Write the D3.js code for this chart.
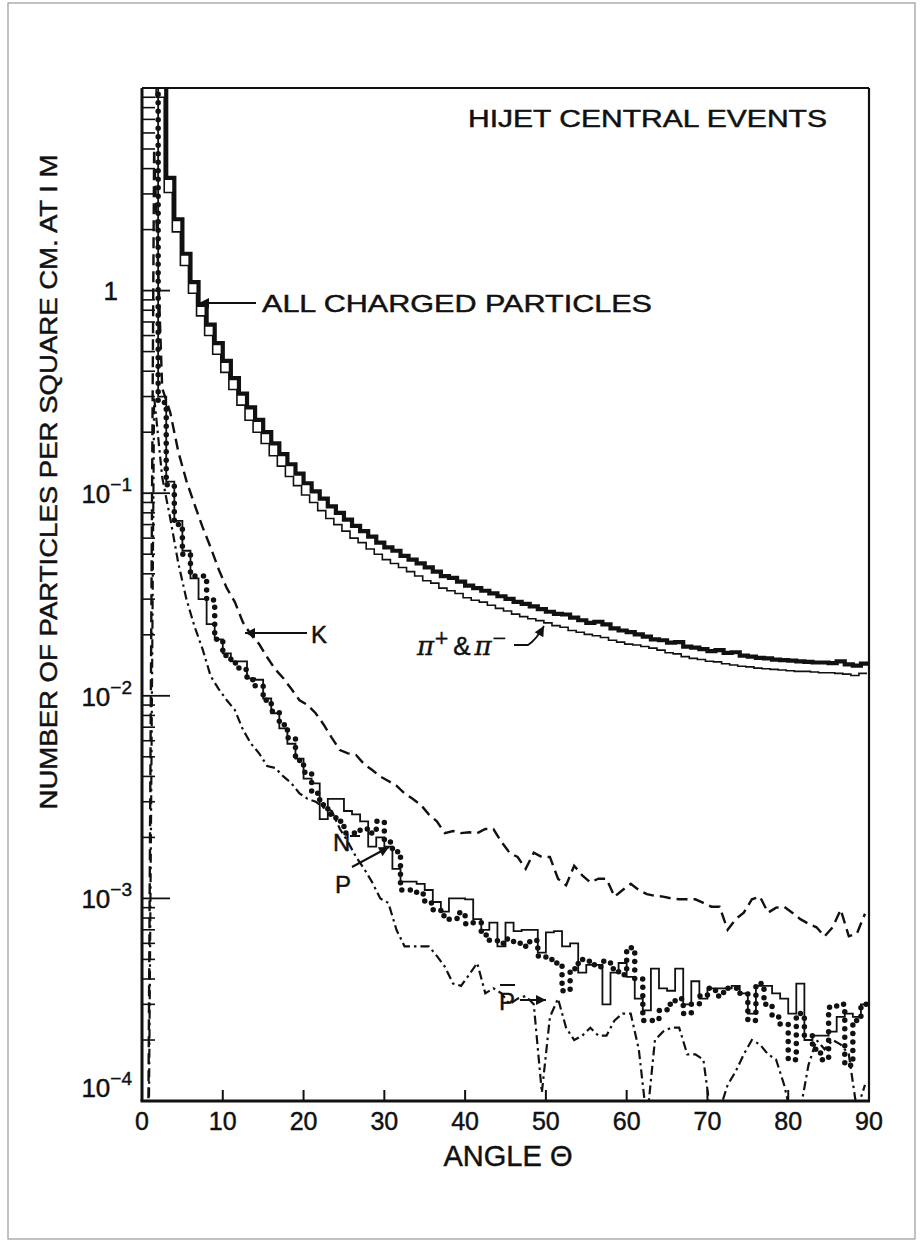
<!DOCTYPE html>
<html><head><meta charset="utf-8">
<script src="https://cdn.jsdelivr.net/npm/d3@7/dist/d3.min.js"></script>
<style>body{margin:0;background:#fff}svg{display:block}text{stroke:#111;stroke-width:0.45px}</style>
</head><body><svg id="c" width="920" height="1243"></svg>
<script>
// ---- data (bin k covers angle k..k+1 degrees) ----
const allCharged = [
 40, 40, 40, 3.6, 2.25, 1.52, 1.1, 0.85, 0.68, 0.55,
 0.45, 0.37, 0.31, 0.265, 0.23, 0.2, 0.176, 0.156, 0.139, 0.125,
 0.112, 0.102, 0.094, 0.086, 0.08, 0.074, 0.069, 0.065, 0.061, 0.057,
 0.054, 0.052, 0.049, 0.047, 0.045, 0.043, 0.041, 0.039, 0.0382, 0.0366,
 0.035, 0.034, 0.033, 0.032, 0.031, 0.0301, 0.0291, 0.0284, 0.0276, 0.0268,
 0.026, 0.0254, 0.0252, 0.0243, 0.0236, 0.0229, 0.0232, 0.0225, 0.0215, 0.021,
 0.0206, 0.0201, 0.0196, 0.019, 0.0188, 0.0183, 0.0184, 0.0175, 0.0173, 0.017,
 0.0166, 0.0168, 0.0163, 0.0164, 0.0158, 0.0156, 0.0154, 0.0153, 0.0151, 0.015,
 0.0149, 0.0148, 0.0147, 0.0146, 0.0146, 0.0145, 0.0148, 0.0143, 0.0141, 0.0144];
const pions = [
 40, 40, 9, 3.05, 1.95, 1.33, 0.97, 0.75, 0.6, 0.485,
 0.395, 0.325, 0.272, 0.229, 0.2, 0.176, 0.153, 0.136, 0.121, 0.109,
 0.098, 0.09, 0.082, 0.075, 0.07, 0.065, 0.06, 0.057, 0.053, 0.05,
 0.047, 0.045, 0.043, 0.041, 0.039, 0.037, 0.036, 0.034, 0.033, 0.032,
 0.0305, 0.0296, 0.029, 0.028, 0.027, 0.0262, 0.0253, 0.0246, 0.024, 0.0235,
 0.0229, 0.0222, 0.0218, 0.021, 0.0206, 0.0201, 0.0198, 0.0194, 0.0188, 0.0184,
 0.018, 0.0178, 0.0175, 0.0172, 0.0168, 0.0163, 0.0161, 0.0156, 0.0153, 0.0151,
 0.0148, 0.0147, 0.0144, 0.0142, 0.014, 0.0139, 0.0137, 0.0136, 0.0135, 0.0134,
 0.0133, 0.0132, 0.0132, 0.0131, 0.013, 0.013, 0.0129, 0.0128, 0.0126, 0.0129];
const kaons = [
 1e-6, 5, 0.33, 0.25, 0.16, 0.115, 0.088, 0.068, 0.054, 0.042,
 0.034, 0.029, 0.023, 0.02, 0.018, 0.0155, 0.0135, 0.0122, 0.0108, 0.0095,
 0.009, 0.0082, 0.0072, 0.0062, 0.0054, 0.0052, 0.0051, 0.0046, 0.0043, 0.004,
 0.0038, 0.0036, 0.0033, 0.0031, 0.0029, 0.0026, 0.0024, 0.0021, 0.00215, 0.0021,
 0.00212, 0.0021, 0.0022, 0.0022, 0.0019, 0.00168, 0.0016, 0.0014, 0.00168, 0.0016,
 0.0016, 0.00125, 0.00116, 0.00145, 0.0013, 0.0012, 0.00125, 0.00125, 0.00102, 0.0011,
 0.00118, 0.0011, 0.00105, 0.00103, 0.00102, 0.001, 0.00099, 0.00099, 0.00099, 0.00095,
 0.00091, 0.00091, 0.0007, 0.00079, 0.00085, 0.00099, 0.00102, 0.00085, 0.0009, 0.00091,
 0.00085, 0.00079, 0.00075, 0.00072, 0.00065, 0.00072, 0.00088, 0.00065, 0.00067, 0.00084];
const neutrons = [
 40, 40, 0.3, 0.114, 0.073, 0.052, 0.038, 0.03, 0.0226, 0.019,
 0.0162, 0.0148, 0.0148, 0.0122, 0.012, 0.0097, 0.0082, 0.0069, 0.0058, 0.0049,
 0.0039, 0.0037, 0.00246, 0.0031, 0.0031, 0.0027, 0.0026, 0.0024, 0.0018, 0.002,
 0.0018, 0.0014, 0.00121, 0.00121, 0.00118, 0.0011, 0.00096, 0.00086, 0.001, 0.001,
 0.00099, 0.00079, 0.0007, 0.00076, 0.00058, 0.00076, 0.00069, 0.0007, 0.0007, 0.00054,
 0.00068, 0.00069, 0.00058, 0.0006, 0.00043, 0.00047, 0.00047, 0.0003, 0.00043, 0.00048,
 0.00041, 0.00032, 0.00028, 0.00045, 0.00036, 0.00035, 0.00045, 0.0003, 0.00039, 0.00032,
 0.00036, 0.00036, 0.00036, 0.00037, 0.00034, 0.00027, 0.00037, 0.00037, 0.00034, 0.00032,
 0.00027, 0.00038, 0.0002, 0.00021, 0.00021, 0.00022, 0.00026, 0.00027, 0.00026, 0.0003];
const protons = [
 40, 40, 0.28, 0.11, 0.07, 0.05, 0.039, 0.039, 0.0297, 0.019,
 0.0158, 0.0145, 0.0135, 0.012, 0.0112, 0.0095, 0.0084, 0.0072, 0.0062, 0.0048,
 0.0042, 0.0033, 0.0029, 0.0026, 0.0024, 0.0021, 0.0021, 0.0022, 0.0021, 0.0024,
 0.0019, 0.0017, 0.0011, 0.0011, 0.00105, 0.00095, 0.00088, 0.00082, 0.00079, 0.00085,
 0.00075, 0.00076, 0.00066, 0.00062, 0.0006, 0.00063, 0.0006, 0.00058, 0.00062, 0.00052,
 0.0005, 0.00048, 0.00035, 0.00045, 0.0005, 0.00049, 0.00046, 0.00049, 0.00045, 0.00042,
 0.00057, 0.0004, 0.00025, 0.00025, 0.00028, 0.0003, 0.00032, 0.00027, 0.0003, 0.00033,
 0.00036, 0.00033, 0.00036, 0.00036, 0.00034, 0.00025, 0.00038, 0.0003, 0.00026, 0.00024,
 0.00016, 0.00027, 0.00021, 0.00018, 0.00016, 0.00029, 0.0003, 0.00015, 0.00025, 0.0003];
const antiprotons = [
 1e-6, 0.3, 0.12, 0.075, 0.045, 0.03, 0.022, 0.017, 0.0125, 0.0108,
 0.0095, 0.0085, 0.0068, 0.0058, 0.0052, 0.0045, 0.0044, 0.004, 0.0037, 0.0033,
 0.0031, 0.003, 0.0028, 0.0027, 0.0022, 0.0019, 0.0016, 0.0014, 0.0012, 0.001,
 0.00095, 0.0007, 0.00058, 0.00058, 0.00058, 0.00058, 0.00052, 0.00046, 0.00038, 0.00037,
 0.00042, 0.00048, 0.00034, 0.00036, 0.00034, 0.0003, 0.00032, 0.00033, 0.0003, 0.00011,
 0.00026, 0.00032, 0.00023, 0.0002, 0.00021, 0.00023, 0.00021, 0.00021, 0.00025, 0.00027,
 0.00027, 0.00018, 0.00008, 0.0002, 0.00022, 0.00023, 0.00023, 0.00017, 0.00017, 0.00016,
 0.00008, 0.00009, 0.00012, 0.00014, 0.00017, 0.0002, 0.00019, 0.00017, 0.00016, 0.00012,
 0.00008, 0.00009, 0.00015, 0.0002, 0.00018, 0.0002, 0.00019, 0.00017, 0.00009, 0.00012];
const xTickValues = [0, 10, 20, 30, 40, 50, 60, 70, 80, 90];
const yDecades = [1e-4, 1e-3, 1e-2, 1e-1, 1];
const yDecadeExp = ["-4", "-3", "-2", "-1", ""];

// ---- layout ----
const svg = d3.select("#c");
const INK = "#111";
const x = d3.scaleLinear().domain([0, 90]).range([142, 869]);
const y = d3.scaleLog().domain([1e-4, 10]).range([1101, 88]);
const [x0, x1] = x.range(), [yb, yt] = y.range();

svg.append("rect").attr("x", 8).attr("y", 3).attr("width", 907).attr("height", 1236)
  .attr("fill", "none").attr("stroke", "#9a9a9a").attr("stroke-width", 1.2);

svg.append("clipPath").attr("id", "plot").append("rect")
  .attr("x", x0).attr("y", yt).attr("width", x1 - x0).attr("height", yb - yt);
const g = svg.append("g").attr("clip-path", "url(#plot)");

const stepPts = arr => arr.map((v, k) => ({a: k, v})).concat([{a: arr.length, v: arr[arr.length - 1]}]);
const centerPts = arr => arr.map((v, k) => ({a: k + 0.5, v}));
const yv = v => y(Math.max(v, 1e-7));
const step = d3.line().x(d => x(d.a)).y(d => yv(d.v)).curve(d3.curveStepAfter);
const poly = d3.line().x(d => x(d.a)).y(d => yv(d.v));

// minor + major ticks on left axis
const minor = [];
yDecades.forEach(d => { for (let m = 2; m <= 9; m++) minor.push(d * m); });
g.selectAll("line.minor").data(minor).join("line")
  .attr("x1", x0).attr("x2", x0 + 13).attr("y1", d => y(d)).attr("y2", d => y(d))
  .attr("stroke", INK).attr("stroke-width", 1.6);
g.selectAll("line.major").data(yDecades.slice(1)).join("line")
  .attr("x1", x0).attr("x2", x0 + 28).attr("y1", d => y(d)).attr("y2", d => y(d))
  .attr("stroke", INK).attr("stroke-width", 1.8);
g.selectAll("line.xt").data(xTickValues.slice(1, -1)).join("line")
  .attr("x1", d => x(d)).attr("x2", d => x(d)).attr("y1", yb).attr("y2", yb - 11)
  .attr("stroke", INK).attr("stroke-width", 2);

// series
g.append("path").attr("d", poly(centerPts(antiprotons))).attr("fill", "none")
  .attr("stroke", INK).attr("stroke-width", 2.2).attr("stroke-dasharray", "9,4,2.5,4");
g.append("path").attr("d", poly(centerPts(kaons))).attr("fill", "none")
  .attr("stroke", INK).attr("stroke-width", 2.4).attr("stroke-dasharray", "11,6");
g.append("path").attr("d", step(stepPts(neutrons))).attr("fill", "none")
  .attr("stroke", INK).attr("stroke-width", 1.8);
g.append("path").attr("d", step(stepPts(protons))).attr("fill", "none")
  .attr("stroke", INK).attr("stroke-width", 5.5).attr("stroke-linecap", "round")
  .attr("stroke-dasharray", "0,8.5");
g.append("path").attr("d", step(stepPts(allCharged))).attr("fill", "none")
  .attr("stroke", INK).attr("stroke-width", 4.2).attr("stroke-linejoin", "miter");
g.append("path").attr("d", step(stepPts(pions))).attr("fill", "none")
  .attr("stroke", INK).attr("stroke-width", 1.6).attr("transform", "translate(-2,0)");

// frame
svg.append("line").attr("x1", x0).attr("x2", x1).attr("y1", yt).attr("y2", yt).attr("stroke", INK).attr("stroke-width", 2);
svg.append("line").attr("x1", x1).attr("x2", x1).attr("y1", yt).attr("y2", yb).attr("stroke", INK).attr("stroke-width", 2.2);
svg.append("line").attr("x1", x0).attr("x2", x0).attr("y1", yt).attr("y2", yb).attr("stroke", INK).attr("stroke-width", 3);
svg.append("line").attr("x1", x0 - 1.5).attr("x2", x1 + 1).attr("y1", yb).attr("y2", yb).attr("stroke", INK).attr("stroke-width", 3);

const FONT = "'Liberation Sans', Arial, sans-serif";
// x tick labels
svg.selectAll("text.xl").data(xTickValues).join("text")
  .attr("x", d => x(d)).attr("y", 1130).attr("text-anchor", "middle")
  .attr("font-family", FONT).attr("font-size", 25).attr("fill", INK).text(d => d);
// y tick labels
yDecades.forEach((d, i) => {
  const t = svg.append("text").attr("font-family", FONT).attr("fill", INK).attr("font-size", 26)
    .attr("text-anchor", "end");
  if (yDecadeExp[i] === "") {
    t.attr("x", 118).attr("y", y(d) + 9).text("1");
  } else {
    const yy = i === 0 ? y(d) - 4 : y(d) + 10;
    t.attr("x", 132).attr("y", yy);
    t.append("tspan").text("10");
    t.append("tspan").attr("font-size", 19).attr("dy", -12).text("\u2212" + yDecadeExp[i].slice(1));
  }
});

// axis titles
svg.append("text").attr("x", 508).attr("y", 1166).attr("text-anchor", "middle")
  .attr("font-family", FONT).attr("font-size", 29).attr("fill", INK).text("ANGLE \u0398");
svg.append("text").attr("transform", "translate(57,482) rotate(-90)").attr("text-anchor", "middle")
  .attr("font-family", FONT).attr("font-size", 24).attr("fill", INK)
  .attr("textLength", 655).attr("lengthAdjust", "spacingAndGlyphs")
  .text("NUMBER OF PARTICLES  PER SQUARE CM. AT I M");

// annotations
const ann = (tx, ty, s, size, len) => {
  const t = svg.append("text").attr("x", tx).attr("y", ty).attr("font-family", FONT)
    .attr("font-size", size).attr("fill", INK).text(s);
  if (len) t.attr("textLength", len).attr("lengthAdjust", "spacingAndGlyphs");
  return t;
};
ann(468, 127, "HIJET CENTRAL EVENTS", 23, 359);
ann(262, 312, "ALL CHARGED PARTICLES", 24, 390);
ann(311, 643, "K", 24);
svg.append("defs").append("marker").attr("id", "ah").attr("viewBox", "0 0 10 10")
  .attr("refX", 10).attr("refY", 5).attr("markerWidth", 20).attr("markerHeight", 10)
  .attr("markerUnits", "userSpaceOnUse").attr("orient", "auto")
  .append("path").attr("d", "M0,0 L10,5 L0,10 Z").attr("fill", INK);
const arrow = (xa, ya, xb, yb2) => svg.append("line").attr("x1", xa).attr("y1", ya).attr("x2", xb).attr("y2", yb2)
  .attr("stroke", INK).attr("stroke-width", 2).attr("marker-end", "url(#ah)");
arrow(256, 303, 199, 303);
arrow(307, 633, 245, 633);
// pi label
const pt = svg.append("text").attr("x", 417).attr("y", 655).attr("font-family", "'DejaVu Serif', serif")
  .attr("font-style", "italic").attr("font-size", 26).attr("fill", INK);
pt.append("tspan").text("\u03C0");
pt.append("tspan").attr("font-size", 18).attr("dy", -11).text("+");
pt.append("tspan").attr("font-size", 26).attr("dy", 11).attr("dx", 4).attr("font-style", "normal").attr("font-family", FONT).text("&");
pt.append("tspan").attr("dx", 4).text("\u03C0");
pt.append("tspan").attr("font-size", 18).attr("dy", -11).text("\u2212");
svg.append("path").attr("d", "M514,645 L528,645 Q536,640 544,626").attr("fill", "none")
  .attr("stroke", INK).attr("stroke-width", 1.8).attr("marker-end", "url(#ah)");
// N / P
ann(333, 851, "N", 24);
ann(335, 893, "P", 24);
svg.append("line").attr("x1", 350).attr("y1", 836).attr("x2", 360).attr("y2", 836).attr("stroke", INK).attr("stroke-width", 2);
arrow(352, 867, 389, 847);
// P-bar
ann(499, 1010, "P", 24);
svg.append("line").attr("x1", 500).attr("x2", 515).attr("y1", 985).attr("y2", 985).attr("stroke", INK).attr("stroke-width", 2);
arrow(520, 1000, 546, 1000);
</script></body></html>
